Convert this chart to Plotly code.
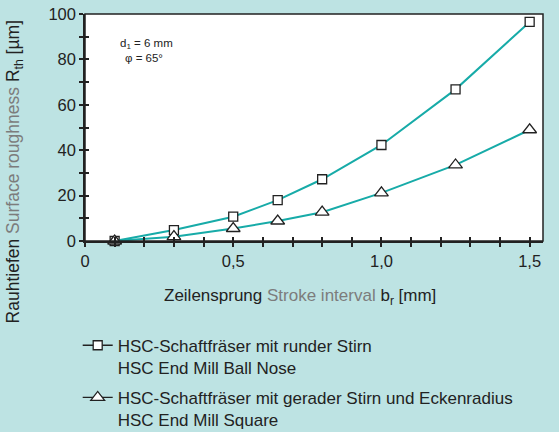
import plotly.graph_objects as go

# Stroke interval b_r [mm] and theoretical roughness R_th [µm]
stroke_interval = [0.1, 0.3, 0.5, 0.65, 0.8, 1.0, 1.25, 1.5]
ball_nose = [0.0, 4.8, 10.7, 18.0, 27.2, 42.3, 66.8, 96.5]
square_mill = [0.0, 1.9, 5.5, 8.8, 12.7, 21.2, 33.5, 49.0]

name_ball = "HSC-Schaftfräser mit runder Stirn<br>HSC End Mill Ball Nose"
name_square = "HSC-Schaftfräser mit gerader Stirn und Eckenradius<br>HSC End Mill Square"

x_ticks = [round(0.1 * i, 1) for i in range(16)]
x_labels = {0.0: "0", 0.5: "0,5", 1.0: "1,0", 1.5: "1,5"}
y_ticks = list(range(0, 101, 10))

BG = "#bde3e3"
TEAL = "#17aba8"
GREY = "#7c7c7c"
INK = "#222"
FONT = "Liberation Sans, Arial, sans-serif"
FS = 16.5

W, H = 559, 432
L, R, T, B = 85.3, 15.7, 14.3, 190.7
PW, PH = W - L - R, H - T - B


def px_x(px):
    return (px - L) / PW


def px_y(py):
    return (H - B - py) / PH


fig = go.Figure()

fig.add_trace(go.Scatter(
    x=stroke_interval, y=ball_nose, mode="lines+markers",
    line=dict(color=TEAL, width=2),
    marker=dict(symbol="square", size=9, color="white",
                line=dict(color=INK, width=1.3)),
    showlegend=False, cliponaxis=False))
fig.add_trace(go.Scatter(
    x=stroke_interval, y=square_mill, mode="lines+markers",
    line=dict(color=TEAL, width=2),
    marker=dict(symbol="triangle-up", size=12, color="white",
                line=dict(color=INK, width=1.3)),
    showlegend=False, cliponaxis=False))

# legend entries drawn with black line symbols
fig.add_trace(go.Scatter(
    x=[None], y=[None], mode="lines+markers", name=name_ball,
    line=dict(color=INK, width=1.3),
    marker=dict(symbol="square", size=9, color="white",
                line=dict(color=INK, width=1.3)),
    legendgroup="a"))
fig.add_trace(go.Scatter(
    x=[None], y=[None], mode="lines+markers", name=name_square,
    line=dict(color=INK, width=1.3),
    marker=dict(symbol="triangle-up", size=12, color="white",
                line=dict(color=INK, width=1.3)),
    legendgroup="b"))

# inner halves of the crossing ticks
fig.add_trace(go.Scatter(x=[None], y=[None], xaxis="x2", yaxis="y2",
                         showlegend=False))

axis_common = dict(showline=True, linecolor=INK, linewidth=1.5,
                   mirror=False, showgrid=False, zeroline=False,
                   tickcolor=INK, tickwidth=1.5)

fig.update_layout(
    width=W, height=H,
    margin=dict(l=L, r=R, t=T, b=B, autoexpand=False),
    paper_bgcolor=BG, plot_bgcolor="white",
    font=dict(family=FONT, size=FS, color=INK),
    xaxis=dict(range=[0, 1.545], tickmode="array", tickvals=x_ticks,
               ticktext=[x_labels.get(v, "") for v in x_ticks],
               ticks="outside", ticklen=4, **axis_common),
    yaxis=dict(range=[0, 100], tickmode="array", tickvals=y_ticks,
               ticktext=[str(v) if v % 20 == 0 else "" for v in y_ticks],
               ticks="outside", ticklen=4, **axis_common),
    xaxis2=dict(overlaying="x", range=[0, 1.545], tickmode="array",
                tickvals=x_ticks, showticklabels=False, ticks="inside",
                ticklen=4, showline=False, showgrid=False, zeroline=False,
                tickcolor=INK, tickwidth=1.5),
    yaxis2=dict(overlaying="y", range=[0, 100], tickmode="array",
                tickvals=y_ticks, showticklabels=False, ticks="inside",
                ticklen=4, showline=False, showgrid=False, zeroline=False,
                tickcolor=INK, tickwidth=1.5),
    legend=dict(x=px_x(78), y=px_y(328), xanchor="left", yanchor="top",
                bgcolor="rgba(0,0,0,0)", tracegroupgap=5, valign="top",
                font=dict(family=FONT, size=17, color=INK)),
    shapes=[dict(type="rect", xref="paper", yref="paper", x0=0, y0=0,
                 x1=1, y1=1, line=dict(color=INK, width=1.5))],
    annotations=[
        dict(xref="paper", yref="paper", x=px_x(119), y=px_y(44),
             xanchor="left", yanchor="middle", showarrow=False, borderpad=0,
             text="d<sub>1</sub> = 6 mm",
             font=dict(family=FONT, size=11.5, color=INK)),
        dict(xref="paper", yref="paper", x=px_x(124), y=px_y(58),
             xanchor="left", yanchor="middle", showarrow=False, borderpad=0,
             text="φ = 65°",
             font=dict(family=FONT, size=11.5, color=INK)),
        dict(xref="paper", yref="paper", x=px_x(300), y=px_y(297),
             xanchor="center", yanchor="middle", showarrow=False,
             text="Zeilensprung <span style='color:%s'>Stroke interval</span> "
                  "b<sub>r</sub> [mm]" % GREY,
             font=dict(family=FONT, size=17, color=INK)),
        dict(xref="paper", yref="paper", x=px_x(15), y=px_y(172),
             xanchor="center", yanchor="middle", textangle=-90,
             showarrow=False,
             text="Rauhtiefen <span style='color:%s'>Surface roughness</span> "
                  "R<sub>th</sub> [µm]" % GREY,
             font=dict(family=FONT, size=17.5, color=INK)),
    ],
)

fig.write_html("out.html")
